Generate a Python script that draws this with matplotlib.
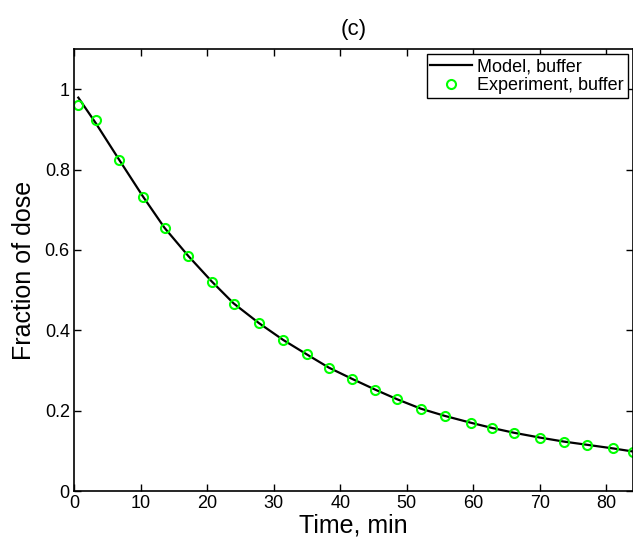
import matplotlib.pyplot as plt
from matplotlib.ticker import FormatStrFormatter

plt.rcParams['font.family'] = ['Liberation Sans', 'DejaVu Sans']

# Experimental points (time in min, fraction of dose)
t_exp = [0.65, 3.25, 6.8, 10.36, 13.6, 17.17, 20.67, 23.98, 27.78, 31.43, 34.98,
         38.3, 41.8, 45.3, 48.6, 52.1, 55.7, 59.6, 62.8, 66.1, 70.0, 73.6, 77.1,
         81.0, 84.0]
y_exp = [0.960, 0.924, 0.824, 0.731, 0.655, 0.585, 0.521, 0.466, 0.418, 0.376,
         0.340, 0.305, 0.279, 0.251, 0.228, 0.204, 0.187, 0.170, 0.156, 0.144,
         0.131, 0.122, 0.115, 0.106, 0.098]

# Model curve
t_model = [0.65, 3.25, 6.8, 10.36, 13.6, 17.17, 20.67, 23.98, 27.78, 31.43, 34.98,
           38.3, 41.8, 45.3, 48.6, 52.1, 55.7, 59.6, 62.8, 66.1, 70.0, 73.6,
           77.1, 81.0, 84.5]
y_model = [0.979, 0.916, 0.824, 0.733, 0.655, 0.585, 0.522, 0.467, 0.418, 0.376,
           0.340, 0.307, 0.279, 0.252, 0.228, 0.205, 0.187, 0.170, 0.157, 0.145,
           0.133, 0.123, 0.115, 0.106, 0.097]

fig = plt.figure(figsize=(6.33, 5.41), dpi=100)
ax = fig.add_axes([74 / 633, 1 - 491 / 541, 1 - 74 / 633, (491 - 49) / 541])

ax.plot(t_model, y_model, color='black', lw=1.6, label='Model, buffer')
ax.plot(t_exp, y_exp, 'o', mfc='none', mec=(0, 1, 0), mew=1.5, ms=6.5,
        label='Experiment, buffer')

ax.set_xlim(0, 84)
ax.set_ylim(0, 1.1)
ax.set_xticks([0, 10, 20, 30, 40, 50, 60, 70, 80])
ax.set_yticks([0, 0.2, 0.4, 0.6, 0.8, 1.0])
ax.yaxis.set_major_formatter(FormatStrFormatter('%g'))
ax.tick_params(direction='in', length=5, width=1, top=True, right=True,
               labelsize=13)
ax.tick_params(axis='x', pad=3)
ax.tick_params(axis='y', pad=3)
for s in ax.spines.values():
    s.set_linewidth(1.2)

ax.set_xlabel('Time, min', fontsize=18, labelpad=1)
ax.set_ylabel('Fraction of dose', fontsize=18, labelpad=6)
ax.set_title('(c)', fontsize=16, pad=10)

leg = ax.legend(loc='upper right', numpoints=1, fontsize=13, frameon=True,
                fancybox=False, edgecolor='black', framealpha=1,
                borderaxespad=0.3, handlelength=2.3, handletextpad=0.3,
                borderpad=0.2, labelspacing=0.12)
leg.get_frame().set_linewidth(1.0)

fig.savefig('out.png', dpi=100)
